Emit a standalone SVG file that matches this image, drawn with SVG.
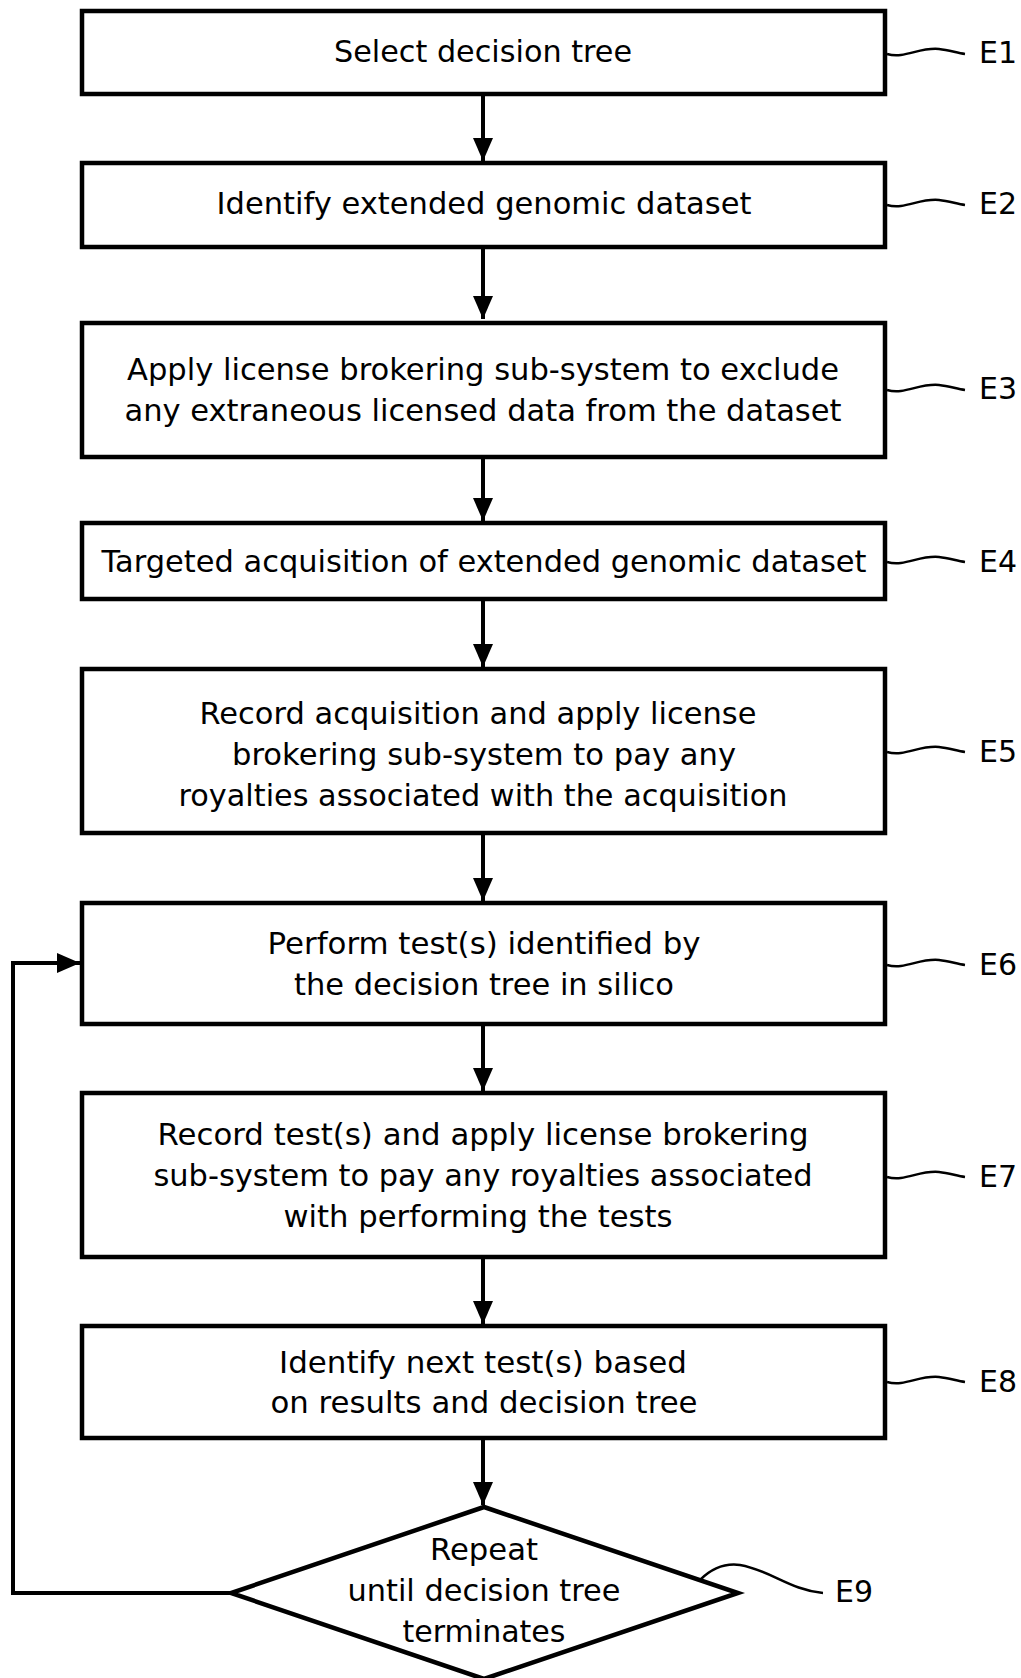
<svg xmlns="http://www.w3.org/2000/svg" width="1021" height="1678" viewBox="0 0 1021 1678">
<style>
.box{fill:#fff;stroke:#000;stroke-width:4.5}
.t{font-family:"DejaVu Sans","Liberation Sans",sans-serif;font-size:30px;fill:#000;text-anchor:middle}
.lbl{font-family:"DejaVu Sans","Liberation Sans",sans-serif;font-size:30px;fill:#000}
.c{fill:none;stroke:#000;stroke-width:4}
.lead{fill:none;stroke:#000;stroke-width:2.5}
</style>
<defs>
<marker id="ah" markerUnits="userSpaceOnUse" markerWidth="24" markerHeight="22" refX="23" refY="10" orient="auto">
<path d="M0,0 L23,10 L0,20 z" fill="#000"/>
</marker>
<path id="wave" d="M0,0 C18,5 32,-7 52,-5 C62,-4 70,-1 78,0"/>
</defs>
<rect width="1021" height="1678" fill="#fff"/>
<g id="connectors">
<path class="c" d="M483,94 V161" marker-end="url(#ah)"/>
<path class="c" d="M483,247 V319" marker-end="url(#ah)"/>
<path class="c" d="M483,457 V521" marker-end="url(#ah)"/>
<path class="c" d="M483,599 V667" marker-end="url(#ah)"/>
<path class="c" d="M483,833 V901" marker-end="url(#ah)"/>
<path class="c" d="M483,1024 V1091" marker-end="url(#ah)"/>
<path class="c" d="M483,1257 V1324" marker-end="url(#ah)"/>
<path class="c" d="M483,1438 V1505" marker-end="url(#ah)"/>
<path class="c" d="M231,1593 H13 V963 H80" marker-end="url(#ah)"/>
</g>
<g id="E1">
<rect class="box" x="82" y="11" width="803" height="83"/>
<text class="t" x="483" y="62" textLength="298" lengthAdjust="spacingAndGlyphs">Select decision tree</text>
<use href="#wave" class="lead" x="887" y="54"/>
<text class="lbl" x="979" y="63">E1</text>
</g>
<g id="E2">
<rect class="box" x="82" y="163" width="803" height="84"/>
<text class="t" x="484" y="214" textLength="535" lengthAdjust="spacingAndGlyphs">Identify extended genomic dataset</text>
<use href="#wave" class="lead" x="887" y="205"/>
<text class="lbl" x="979" y="214">E2</text>
</g>
<g id="E3">
<rect class="box" x="82" y="323" width="803" height="134"/>
<text class="t" x="483" y="380" textLength="712" lengthAdjust="spacingAndGlyphs">Apply license brokering sub-system to exclude</text>
<text class="t" x="483" y="421" textLength="717" lengthAdjust="spacingAndGlyphs">any extraneous licensed data from the dataset</text>
<use href="#wave" class="lead" x="887" y="390"/>
<text class="lbl" x="979" y="399">E3</text>
</g>
<g id="E4">
<rect class="box" x="82" y="523" width="803" height="76"/>
<text class="t" x="484" y="572" textLength="765" lengthAdjust="spacingAndGlyphs">Targeted acquisition of extended genomic dataset</text>
<use href="#wave" class="lead" x="887" y="562"/>
<text class="lbl" x="979" y="572">E4</text>
</g>
<g id="E5">
<rect class="box" x="82" y="669" width="803" height="164"/>
<text class="t" x="478" y="724" textLength="557" lengthAdjust="spacingAndGlyphs">Record acquisition and apply license</text>
<text class="t" x="484" y="765" textLength="504" lengthAdjust="spacingAndGlyphs">brokering sub-system to pay any</text>
<text class="t" x="483" y="806" textLength="609" lengthAdjust="spacingAndGlyphs">royalties associated with the acquisition</text>
<use href="#wave" class="lead" x="887" y="752"/>
<text class="lbl" x="979" y="762">E5</text>
</g>
<g id="E6">
<rect class="box" x="82" y="903" width="803" height="121"/>
<text class="t" x="484" y="954" textLength="433" lengthAdjust="spacingAndGlyphs">Perform test(s) identified by</text>
<text class="t" x="484" y="995" textLength="380" lengthAdjust="spacingAndGlyphs">the decision tree in silico</text>
<use href="#wave" class="lead" x="887" y="965"/>
<text class="lbl" x="979" y="975">E6</text>
</g>
<g id="E7">
<rect class="box" x="82" y="1093" width="803" height="164"/>
<text class="t" x="483" y="1145" textLength="651" lengthAdjust="spacingAndGlyphs">Record test(s) and apply license brokering</text>
<text class="t" x="483" y="1186" textLength="659" lengthAdjust="spacingAndGlyphs">sub-system to pay any royalties associated</text>
<text class="t" x="478" y="1227" textLength="389" lengthAdjust="spacingAndGlyphs">with performing the tests</text>
<use href="#wave" class="lead" x="887" y="1177"/>
<text class="lbl" x="979" y="1187">E7</text>
</g>
<g id="E8">
<rect class="box" x="82" y="1326" width="803" height="112"/>
<text class="t" x="483" y="1373" textLength="408" lengthAdjust="spacingAndGlyphs">Identify next test(s) based</text>
<text class="t" x="484" y="1413" textLength="427" lengthAdjust="spacingAndGlyphs">on results and decision tree</text>
<use href="#wave" class="lead" x="887" y="1382"/>
<text class="lbl" x="979" y="1392">E8</text>
</g>
<g id="E9">
<polygon class="box" points="484,1507 738,1593 484,1679 231,1593"/>
<text class="t" x="484" y="1560" textLength="108" lengthAdjust="spacingAndGlyphs">Repeat</text>
<text class="t" x="484" y="1601" textLength="273" lengthAdjust="spacingAndGlyphs">until decision tree</text>
<text class="t" x="484" y="1642" textLength="163" lengthAdjust="spacingAndGlyphs">terminates</text>
<path class="lead" d="M700,1580 C712,1568 725,1563 740,1565 C770,1570 790,1590 823,1593"/>
<text class="lbl" x="835" y="1602">E9</text>
</g>
</svg>
